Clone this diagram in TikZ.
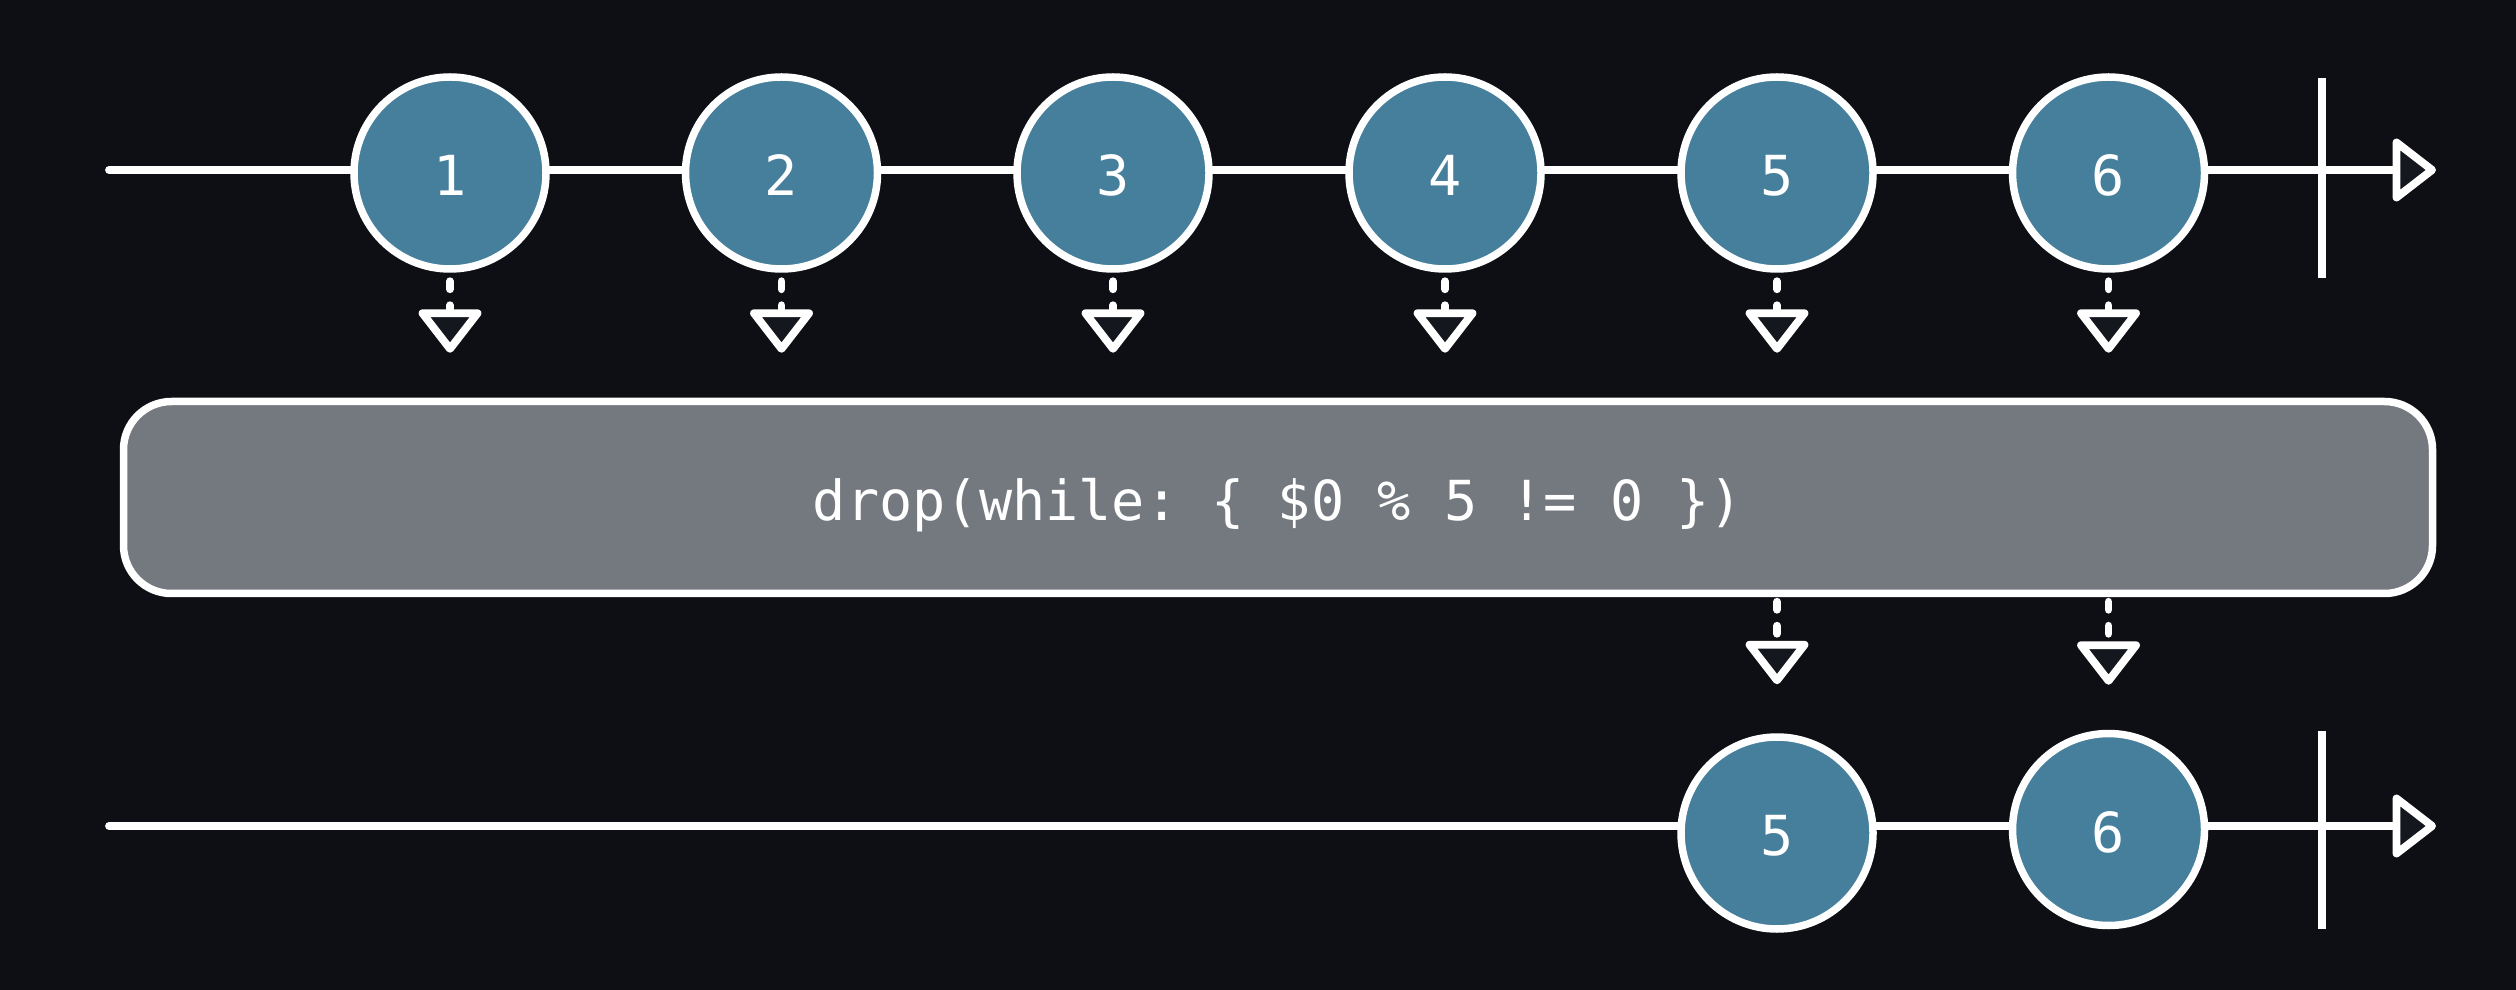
\documentclass[tikz,border=0pt]{standalone}
\usepackage{fontspec}
\setmonofont{DejaVu Sans Mono}
\usetikzlibrary{arrows.meta}
\definecolor{bg}{HTML}{0E0F14}
\definecolor{tipfill}{HTML}{14171E}
\definecolor{marble}{HTML}{467F9C}
\definecolor{opbox}{HTML}{74787F}
\begin{document}
\begin{tikzpicture}[x=0.1mm, y=-0.1mm,
  wire/.style={draw=white, line width=0.78mm, line cap=round},
  marblenode/.style={circle, draw=white, line width=0.75mm, fill=marble,
    minimum size=19.2mm, inner sep=0pt, text=white, text height=4.6mm,
    font=\ttfamily\fontsize{15.7}{19}\selectfont},
  tiphead/.style={-{Triangle[length=4.6mm, width=6.9mm, round, fill=tipfill]}},
  flow/.style={wire, tiphead, dash pattern=on 0.8mm off 1.6mm},
  endtick/.style={draw=white, line width=0.78mm, line cap=butt},
]
% canvas
\fill[bg] (0,0) rectangle (2516,990);
\useasboundingbox (0,0) rectangle (2516,990);

% source timeline
\coordinate (s1) at (109,170);
\coordinate (e1) at (2436,170);
\draw[wire, tiphead] (s1) -- (e1);
\coordinate (t1a) at (2322,78);
\coordinate (t1b) at (2322,278);
\draw[endtick] (t1a) -- (t1b);

\foreach \i/\x in {1/450, 2/781.5, 3/1113, 4/1445, 5/1777, 6/2108.5}
  \node[marblenode] (a\i) at (\x,173) {\i};

% operator box
\node[draw=white, line width=0.75mm, fill=opbox, rounded corners=4.8mm,
      minimum width=230.9mm, minimum height=19.2mm, inner sep=0pt,
      text=white, text height=6mm, text depth=1.4mm,
      font=\ttfamily\fontsize{15.7}{19}\selectfont]
  (op) at (1278,497.5) {drop(while: \{ \$0 \% 5 != 0 \})};

% inputs into the operator
\foreach \i in {1,...,6}
  \draw[flow, shorten <=0.85mm, shorten >=4.5mm] (a\i.south) -- (a\i.south |- op.north);

% result timeline
\coordinate (s2) at (109,826);
\coordinate (e2) at (2436,826);
\draw[wire, tiphead] (s2) -- (e2);
\coordinate (t2a) at (2322,731);
\coordinate (t2b) at (2322,929);
\draw[endtick] (t2a) -- (t2b);

\node[marblenode] (b5) at (1777,833) {5};
\node[marblenode] (b6) at (2108.5,829.5) {6};

% outputs of the operator
\draw[flow, shorten <=0.45mm, shorten >=4.9mm] (op.south -| b5.north) -- (b5.north);
\draw[flow, shorten <=0.45mm, shorten >=4.5mm] (op.south -| b6.north) -- (b6.north);
\end{tikzpicture}
\end{document}
